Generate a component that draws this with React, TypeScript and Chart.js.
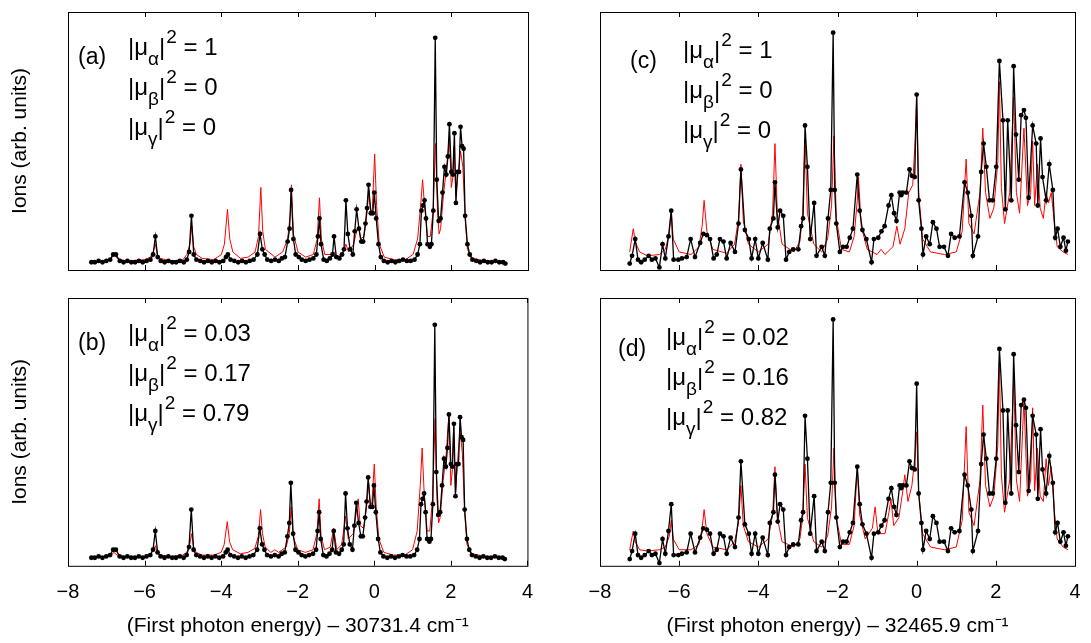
import React, { useRef, useEffect } from 'react';
import { Chart, registerables } from 'chart.js';

Chart.register(...registerables);

// measured ion signal, left band (shared by panels a and b)
const expLeft: number[][] = [
  [-7.39, .03], [-7.3, .03], [-7.2, .035], [-7.1, .03], [-7.0, .035], [-6.9, .04], [-6.82, .06], [-6.75, .06], [-6.65, .035],
  [-6.55, .03], [-6.45, .035], [-6.35, .03], [-6.25, .03], [-6.15, .035], [-6.05, .03], [-5.95, .035], [-5.85, .04], [-5.78, .06],
  [-5.72, .13], [-5.66, .05], [-5.58, .035], [-5.48, .03], [-5.38, .035], [-5.28, .03], [-5.18, .03], [-5.08, .035], [-4.98, .03],
  [-4.9, .04], [-4.84, .07], [-4.78, .21], [-4.72, .06], [-4.65, .04], [-4.55, .035], [-4.45, .03], [-4.35, .035], [-4.25, .03],
  [-4.15, .035], [-4.05, .03], [-3.95, .035], [-3.88, .05], [-3.83, .06], [-3.76, .04], [-3.66, .035], [-3.56, .03], [-3.46, .035],
  [-3.36, .03], [-3.26, .035], [-3.16, .04], [-3.06, .06], [-2.99, .14], [-2.93, .08], [-2.87, .06], [-2.8, .04], [-2.7, .035],
  [-2.6, .04], [-2.5, .035], [-2.42, .045], [-2.34, .05], [-2.27, .11], [-2.22, .16], [-2.18, .31], [-2.12, .12], [-2.06, .06],
  [-1.98, .05], [-1.9, .04], [-1.8, .035], [-1.7, .04], [-1.6, .045], [-1.52, .06], [-1.48, .13], [-1.44, .2], [-1.4, .1],
  [-1.33, .04], [-1.25, .035], [-1.17, .045], [-1.1, .06], [-1.06, .13], [-1.0, .05], [-0.92, .045], [-0.85, .06], [-0.8, .08],
  [-0.75, .27], [-0.7, .14], [-0.64, .08], [-0.57, .06], [-0.52, .15], [-0.47, .235], [-0.41, .16], [-0.35, .11], [-0.3, .11],
  [-0.24, .18], [-0.2, .24], [-0.16, .33], [-0.1, .22], [-0.05, .22], [-0.01, .3], [0.04, .2], [0.1, .1], [0.16, .05],
  [0.24, .035], [0.34, .03], [0.44, .035], [0.54, .03], [0.64, .035], [0.74, .04], [0.84, .035], [0.94, .035], [1.04, .04],
  [1.12, .06], [1.18, .1], [1.22, .23], [1.26, .25], [1.3, .27], [1.34, .2], [1.38, .1], [1.44, .09], [1.48, .1], [1.53, .23],
  [1.58, .9], [1.62, .35], [1.67, .19], [1.72, .2], [1.77, .3], [1.82, .4], [1.87, .37], [1.91, .44], [1.95, .565], [2.0, .38],
  [2.04, .37], [2.08, .53], [2.12, .26], [2.16, .38], [2.2, .38], [2.24, .555], [2.28, .48], [2.32, .47], [2.36, .21], [2.42, .1],
  [2.48, .06], [2.55, .04], [2.65, .035], [2.75, .03], [2.85, .035], [2.95, .03], [3.05, .03], [3.15, .035], [3.25, .03],
  [3.35, .03], [3.41, .025],
];

// measured ion signal, right band (shared by panels c and d)
const expRight: number[][] = [
  [-7.25, .025], [-7.19, .055], [-7.11, .12], [-7.04, .04], [-6.96, .03], [-6.87, .04], [-6.77, .055], [-6.69, .04], [-6.6, .045],
  [-6.5, .01], [-6.42, .1], [-6.35, .045], [-6.27, .13], [-6.2, .23], [-6.14, .04], [-6.02, .04], [-5.93, .045], [-5.81, .05],
  [-5.71, .12], [-5.6, .05], [-5.47, .105], [-5.39, .14], [-5.3, .135], [-5.22, .12], [-5.13, .045], [-5.05, .06], [-4.97, .12],
  [-4.88, .11], [-4.8, .045], [-4.7, .105], [-4.59, .07], [-4.5, .18], [-4.44, .39], [-4.34, .155], [-4.24, .12], [-4.17, .045],
  [-4.08, .12], [-4.0, .045], [-3.89, .105], [-3.76, .04], [-3.71, .16], [-3.62, .2], [-3.58, .34], [-3.51, .165], [-3.45, .23],
  [-3.37, .21], [-3.3, .04], [-3.22, .07], [-3.12, .08], [-2.99, .08], [-2.92, .17], [-2.87, .2], [-2.82, .56], [-2.76, .4],
  [-2.69, .12], [-2.59, .26], [-2.53, .055], [-2.4, .09], [-2.32, .055], [-2.24, .2], [-2.17, .31], [-2.11, .92], [-2.07, .31],
  [-2.03, .18], [-1.94, .07], [-1.86, .09], [-1.77, .09], [-1.69, .125], [-1.61, .16], [-1.5, .37], [-1.44, .23], [-1.37, .155],
  [-1.27, .12], [-1.14, .03], [-1.08, .12], [-0.97, .125], [-0.89, .15], [-0.81, .17], [-0.71, .25], [-0.64, .29], [-0.57, .22],
  [-0.51, .19], [-0.43, .3], [-0.39, .29], [-0.35, .3], [-0.26, .3], [-0.18, .39], [-0.12, .365], [-0.05, .36], [0.0, .68],
  [0.05, .27], [0.12, .16], [0.16, .06], [0.24, .13], [0.33, .1], [0.41, .185], [0.5, .16], [0.58, .09], [0.69, .09], [0.79, .055],
  [0.87, .14], [0.96, .125], [1.08, .13], [1.21, .34], [1.29, .3], [1.38, .21], [1.42, .055], [1.55, .13], [1.63, .38], [1.69, .49],
  [1.76, .4], [1.84, .27], [1.92, .27], [2.01, .4], [2.09, .81], [2.18, .58], [2.24, .235], [2.3, .58], [2.39, .27], [2.45, .79],
  [2.51, .525], [2.58, .35], [2.64, .6], [2.71, .62], [2.76, .59], [2.83, .28], [2.93, .56], [3.02, .49], [3.06, .25], [3.13, .51],
  [3.18, .36], [3.27, .27], [3.35, .41], [3.44, .31], [3.5, .125], [3.56, .16], [3.63, .09], [3.71, .125], [3.77, .075], [3.82, .11],
];

// simulated spectra
const theoryA: number[][] = [
  [-7.4, .03], [-7.0, .035], [-6.88, .045], [-6.8, .06], [-6.72, .045], [-6.5, .035], [-6.0, .04], [-5.85, .05], [-5.78, .07],
  [-5.72, .1], [-5.67, .06], [-5.6, .045], [-5.3, .035], [-5.0, .04], [-4.9, .06], [-4.82, .1], [-4.77, .17], [-4.72, .09],
  [-4.65, .06], [-4.5, .045], [-4.2, .04], [-4.0, .06], [-3.92, .1], [-3.84, .235], [-3.78, .12], [-3.7, .07], [-3.5, .045],
  [-3.3, .05], [-3.12, .07], [-3.03, .13], [-2.97, .32], [-2.92, .15], [-2.85, .08], [-2.6, .05], [-2.4, .07], [-2.27, .12],
  [-2.2, .22], [-2.17, .33], [-2.12, .14], [-2.0, .07], [-1.8, .05], [-1.6, .06], [-1.5, .12], [-1.44, .28], [-1.39, .12],
  [-1.3, .06], [-1.15, .06], [-1.06, .07], [-0.98, .05], [-0.82, .07], [-0.75, .1], [-0.68, .07], [-0.55, .1], [-0.47, .15],
  [-0.42, .17], [-0.37, .12], [-0.28, .13], [-0.2, .22], [-0.15, .31], [-0.1, .22], [-0.06, .24], [0.0, .45], [0.05, .25],
  [0.12, .1], [0.25, .05], [0.5, .04], [0.8, .04], [1.0, .06], [1.12, .12], [1.2, .25], [1.25, .35], [1.3, .25], [1.38, .13],
  [1.45, .13], [1.52, .22], [1.59, .49], [1.64, .22], [1.68, .14], [1.72, .16], [1.8, .3], [1.88, .4], [1.95, .51], [2.0, .32],
  [2.04, .36], [2.07, .48], [2.12, .29], [2.16, .35], [2.24, .46], [2.3, .4], [2.36, .2], [2.42, .08], [2.55, .045], [2.9, .035],
  [3.4, .03],
];

const theoryB: number[][] = [
  [-7.4, .03], [-7.0, .035], [-6.88, .04], [-6.8, .05], [-6.72, .04], [-6.5, .035], [-6.0, .035], [-5.85, .045], [-5.78, .055],
  [-5.72, .075], [-5.67, .05], [-5.6, .04], [-5.3, .035], [-5.0, .04], [-4.9, .05], [-4.82, .08], [-4.77, .12], [-4.72, .07],
  [-4.65, .05], [-4.5, .04], [-4.2, .04], [-4.0, .05], [-3.92, .08], [-3.84, .165], [-3.78, .09], [-3.7, .06], [-3.5, .045],
  [-3.3, .05], [-3.12, .065], [-3.03, .11], [-2.97, .21], [-2.92, .12], [-2.85, .07], [-2.7, .05], [-2.6, .06], [-2.5, .05],
  [-2.3, .07], [-2.22, .12], [-2.17, .22], [-2.12, .11], [-2.0, .06], [-1.8, .05], [-1.6, .06], [-1.5, .12], [-1.44, .25],
  [-1.39, .11], [-1.3, .06], [-1.15, .07], [-1.06, .14], [-0.98, .06], [-0.85, .08], [-0.75, .185], [-0.68, .1], [-0.55, .12],
  [-0.47, .2], [-0.42, .25], [-0.37, .15], [-0.28, .14], [-0.2, .22], [-0.15, .31], [-0.1, .22], [-0.06, .24], [0.0, .38],
  [0.05, .22], [0.12, .1], [0.25, .05], [0.5, .04], [0.8, .04], [1.0, .06], [1.12, .13], [1.2, .3], [1.25, .44], [1.3, .28],
  [1.38, .13], [1.45, .13], [1.52, .25], [1.59, .55], [1.64, .24], [1.68, .16], [1.72, .18], [1.8, .32], [1.88, .42],
  [1.95, .57], [2.0, .3], [2.04, .36], [2.07, .52], [2.12, .27], [2.16, .36], [2.24, .51], [2.3, .42], [2.36, .2], [2.42, .08],
  [2.55, .045], [2.9, .035], [3.4, .03],
];

const theoryC: number[][] = [
  [-7.25, .07], [-7.2, .12], [-7.16, .16], [-7.11, .11], [-7.0, .07], [-6.8, .055], [-6.5, .06], [-6.35, .08], [-6.25, .14],
  [-6.2, .23], [-6.15, .12], [-6.0, .07], [-5.7, .06], [-5.5, .09], [-5.42, .17], [-5.37, .27], [-5.3, .15], [-5.15, .08],
  [-4.8, .065], [-4.6, .1], [-4.5, .2], [-4.44, .41], [-4.38, .19], [-4.25, .1], [-4.0, .07], [-3.75, .1], [-3.64, .22],
  [-3.58, .49], [-3.52, .22], [-3.4, .1], [-3.1, .07], [-2.95, .11], [-2.88, .22], [-2.82, .51], [-2.76, .22], [-2.6, .1],
  [-2.4, .07], [-2.25, .12], [-2.15, .25], [-2.09, .52], [-2.03, .2], [-1.9, .08], [-1.7, .07], [-1.58, .13], [-1.5, .27],
  [-1.47, .36], [-1.4, .17], [-1.25, .08], [-1.0, .06], [-0.9, .08], [-0.8, .06], [-0.6, .09], [-0.5, .17], [-0.42, .1],
  [-0.3, .16], [-0.2, .3], [-0.1, .33], [-0.05, .47], [0.0, .67], [0.05, .3], [0.15, .12], [0.35, .07], [0.7, .06],
  [1.0, .07], [1.15, .15], [1.25, .43], [1.32, .18], [1.45, .14], [1.6, .3], [1.67, .55], [1.74, .3], [1.85, .2],
  [1.95, .24], [2.05, .42], [2.09, .73], [2.14, .32], [2.22, .18], [2.35, .3], [2.45, .67], [2.52, .3], [2.6, .22],
  [2.71, .55], [2.8, .25], [2.88, .3], [2.93, .5], [2.98, .25], [3.05, .41], [3.12, .24], [3.2, .2], [3.27, .3], [3.33, .26],
  [3.4, .3], [3.48, .18], [3.55, .09], [3.7, .07], [3.82, .06],
];

const theoryD: number[][] = [
  [-7.25, .06], [-7.2, .1], [-7.16, .13], [-7.11, .09], [-7.0, .06], [-6.8, .055], [-6.5, .06], [-6.35, .07], [-6.25, .11],
  [-6.2, .17], [-6.15, .1], [-6.0, .06], [-5.7, .06], [-5.5, .08], [-5.42, .14], [-5.37, .21], [-5.3, .12], [-5.15, .07],
  [-4.8, .06], [-4.6, .09], [-4.5, .16], [-4.44, .3], [-4.38, .15], [-4.25, .09], [-4.0, .07], [-3.75, .1], [-3.64, .19],
  [-3.58, .37], [-3.52, .18], [-3.4, .09], [-3.1, .07], [-2.95, .1], [-2.88, .18], [-2.82, .38], [-2.76, .18], [-2.6, .09],
  [-2.4, .07], [-2.25, .11], [-2.15, .22], [-2.09, .44], [-2.03, .18], [-1.9, .08], [-1.7, .08], [-1.58, .15], [-1.5, .37],
  [-1.44, .19], [-1.3, .1], [-1.12, .14], [-1.05, .22], [-0.98, .12], [-0.8, .12], [-0.7, .2], [-0.65, .25], [-0.58, .15],
  [-0.45, .18], [-0.35, .28], [-0.3, .34], [-0.22, .24], [-0.12, .3], [-0.05, .4], [0.0, .5], [0.05, .28], [0.15, .12],
  [0.35, .07], [0.7, .06], [1.0, .07], [1.15, .17], [1.25, .52], [1.32, .2], [1.45, .15], [1.6, .32], [1.67, .6], [1.74, .3],
  [1.85, .22], [1.95, .26], [2.05, .45], [2.09, .76], [2.14, .34], [2.22, .2], [2.35, .32], [2.45, .7], [2.52, .32],
  [2.6, .24], [2.71, .62], [2.8, .26], [2.88, .32], [2.93, .59], [2.98, .28], [3.05, .44], [3.12, .26], [3.2, .24],
  [3.27, .4], [3.33, .3], [3.4, .37], [3.48, .2], [3.55, .1], [3.7, .07], [3.82, .06],
];

const xTicks = [-8, -6, -4, -2, 0, 2, 4];

const panelLabels = ['(a)', '(b)', '(c)', '(d)'];
const weightsA = ['1', '0', '0'];
const weightsB = ['0.03', '0.17', '0.79'];
const weightsC = ['1', '0', '0'];
const weightsD = ['0.02', '0.16', '0.82'];
const subs = ['α', 'β', 'γ'];

const FONT = "'Liberation Sans', Arial, sans-serif";

type PanelProps = {
  exp: number[][];
  theory: number[][];
  label: string;
  weights: string[];
  bottom: boolean;
  left: boolean;
  labelPos: [number, number];
  textPos: [number, number, number];
};

const toPts = (a: number[][]) => a.map(([x, y]) => ({ x, y }));

const Panel: React.FC<PanelProps> = ({ exp, theory, label, weights, bottom, left, labelPos, textPos }) => {
  const ref = useRef<HTMLCanvasElement>(null);
  useEffect(() => {
    if (!ref.current) return;
    const annot = {
      id: 'annot',
      afterDraw(chart: any) {
        const { ctx, chartArea: a, scales } = chart;
        ctx.save();
        ctx.strokeStyle = '#000';
        ctx.lineWidth = 1;
        ctx.beginPath();
        for (const t of xTicks) {
          const px = Math.round(scales.x.getPixelForValue(t)) + 0.5;
          ctx.moveTo(px, a.bottom); ctx.lineTo(px, a.bottom - 5);
          ctx.moveTo(px, a.top); ctx.lineTo(px, a.top + 5);
        }
        ctx.stroke();
        ctx.strokeRect(a.left + 0.5, a.top + 0.5, a.right - a.left, a.bottom - a.top);
        ctx.fillStyle = '#000';
        ctx.textBaseline = 'alphabetic';
        ctx.font = `23px ${FONT}`;
        ctx.fillText(label, a.left + labelPos[0], a.top + labelPos[1]);
        const [tx, ty, dy] = textPos;
        weights.forEach((w, i) => {
          let x = a.left + tx;
          const y = a.top + ty + i * dy;
          ctx.font = `24px ${FONT}`;
          ctx.fillText('|μ', x, y);
          x += ctx.measureText('|μ').width;
          ctx.font = `19px ${FONT}`;
          ctx.fillText(subs[i], x, y + 10);
          x += ctx.measureText(subs[i]).width;
          ctx.font = `24px ${FONT}`;
          ctx.fillText('|', x, y);
          x += ctx.measureText('|').width;
          ctx.font = `19px ${FONT}`;
          ctx.fillText('2', x + 1, y - 12);
          x += ctx.measureText('2').width + 1;
          ctx.font = `24px ${FONT}`;
          ctx.fillText(' = ' + w, x, y);
        });
        ctx.restore();
      },
    };
    const chart = new Chart(ref.current, {
      type: 'scatter',
      data: {
        datasets: [
          {
            data: toPts(exp),
            showLine: true,
            borderColor: '#000',
            backgroundColor: '#000',
            borderWidth: 1.3,
            pointRadius: 2.4,
            pointBorderWidth: 0,
          },
          {
            data: toPts(theory),
            showLine: true,
            borderColor: '#ff0000',
            borderWidth: 1,
            pointRadius: 0,
          },
        ],
      },
      options: {
        animation: false,
        responsive: false,
        events: [],
        layout: { padding: { top: 12, right: left ? 12 : 16, bottom: 0, left: 0 } },
        plugins: { legend: { display: false }, tooltip: { enabled: false } },
        scales: {
          x: {
            type: 'linear',
            min: -8,
            max: 4,
            afterBuildTicks: (s: any) => { s.ticks = xTicks.map((v) => ({ value: v })); },
            grid: { display: false },
            border: { display: false },
            ticks: {
              display: bottom,
              color: '#000',
              padding: 7,
              font: { family: FONT, size: 20 },
              callback: (v: any) => (Number(v) < 0 ? '\u2212' + Math.abs(Number(v)) : String(v)),
            },
            title: {
              display: bottom,
              text: left ? '(First photon energy) \u2013 30731.4 cm\u207B\u00B9' : '(First photon energy) \u2013 32465.9 cm\u207B\u00B9',
              color: '#000',
              font: { family: FONT, size: 21 },
              padding: { top: 2 },
            },
            afterFit: (s: any) => { if (!bottom) s.height = 12; },
          },
          y: {
            min: 0,
            max: 1,
            grid: { display: false },
            border: { display: false },
            ticks: { display: false },
            title: {
              display: left,
              text: 'Ions (arb. units)',
              color: '#000',
              font: { family: FONT, size: 21 },
              padding: { top: 8 },
            },
            afterFit: (s: any) => { s.width = left ? 68 : 40; },
          },
        },
      },
      plugins: [annot],
    });
    return () => chart.destroy();
  }, [exp, theory, label, weights, bottom, left]);
  return <canvas ref={ref} width={left ? 540 : 531} height={bottom ? 357 : 282} />;
};

const App: React.FC = () => (
  <div style={{ position: 'fixed', left: 0, top: 0, width: 1091, height: 643, background: '#fff' }}>
    <div style={{ position: 'absolute', left: 0, top: 0 }}>
      <Panel exp={expLeft} theory={theoryA} label={panelLabels[0]} weights={weightsA} bottom={false} left
        labelPos={[10, 52]} textPos={[60, 43, 40]} />
    </div>
    <div style={{ position: 'absolute', left: 0, top: 286 }}>
      <Panel exp={expLeft} theory={theoryB} label={panelLabels[1]} weights={weightsB} bottom left
        labelPos={[10, 52]} textPos={[60, 43, 40]} />
    </div>
    <div style={{ position: 'absolute', left: 560, top: 0 }}>
      <Panel exp={expRight} theory={theoryC} label={panelLabels[2]} weights={weightsC} bottom={false} left={false}
        labelPos={[30, 56]} textPos={[83, 46, 40]} />
    </div>
    <div style={{ position: 'absolute', left: 560, top: 286 }}>
      <Panel exp={expRight} theory={theoryD} label={panelLabels[3]} weights={weightsD} bottom left={false}
        labelPos={[18, 58]} textPos={[66, 47, 40]} />
    </div>
  </div>
);

export default App;
